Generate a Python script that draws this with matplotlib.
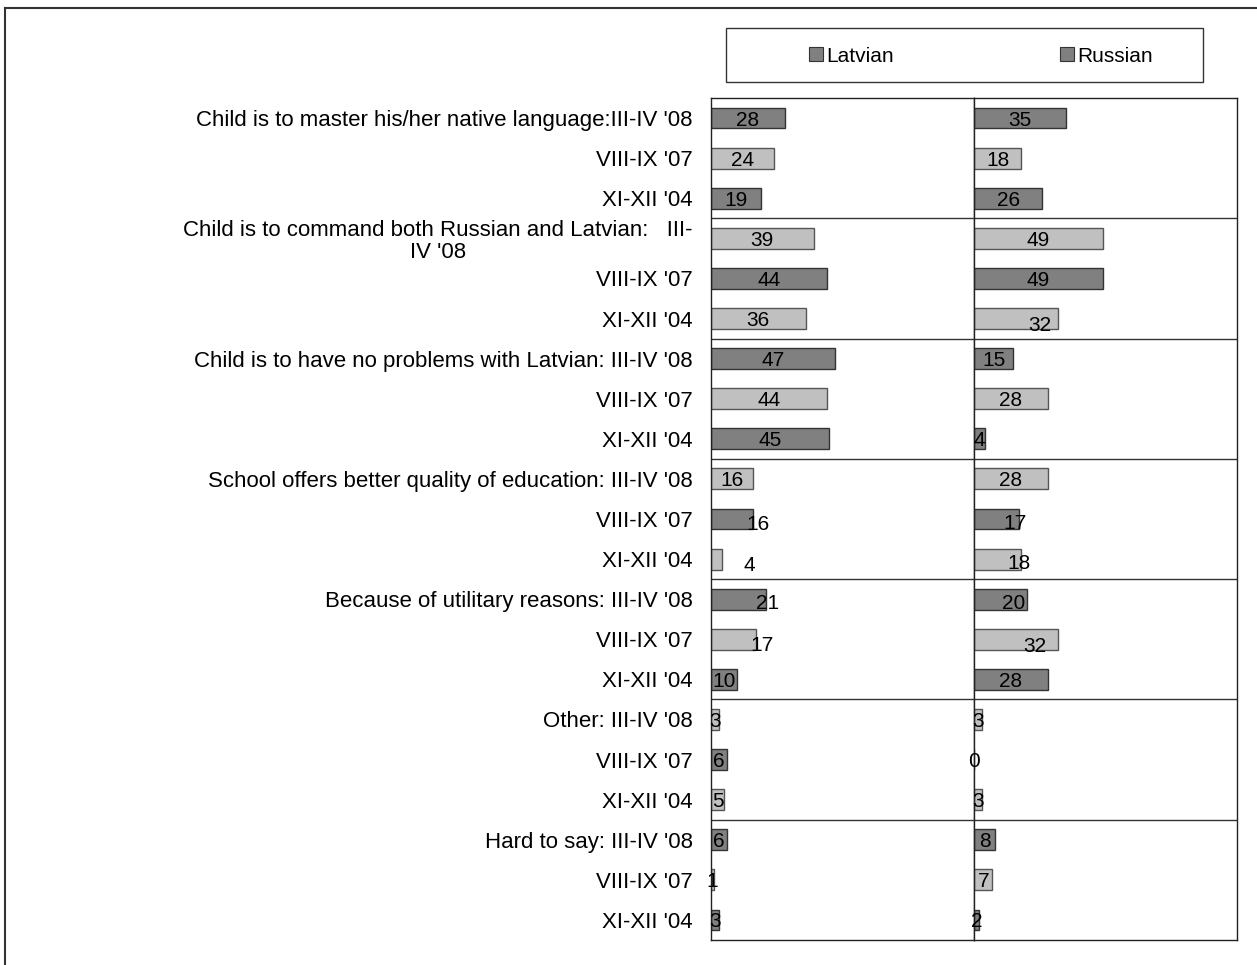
import matplotlib
matplotlib.use("Agg")
import matplotlib.pyplot as plt
from matplotlib.patches import Rectangle, Patch
from matplotlib.lines import Line2D

plt.rcParams['font.family'] = ['Liberation Sans', 'DejaVu Sans']

row_labels = [
    "Child is to master his/her native language:III-IV '08", "VIII-IX '07", "XI-XII '04",
    "Child is to command both Russian and Latvian:   III-\nIV '08", "VIII-IX '07", "XI-XII '04",
    "Child is to have no problems with Latvian: III-IV '08", "VIII-IX '07", "XI-XII '04",
    "School offers better quality of education: III-IV '08", "VIII-IX '07", "XI-XII '04",
    "Because of utilitary reasons: III-IV '08", "VIII-IX '07", "XI-XII '04",
    "Other: III-IV '08", "VIII-IX '07", "XI-XII '04",
    "Hard to say: III-IV '08", "VIII-IX '07", "XI-XII '04",
]
latvian = [28, 24, 19, 39, 44, 36, 47, 44, 45, 16, 16, 4, 21, 17, 10, 3, 6, 5, 6, 1, 3]
russian = [35, 18, 26, 49, 49, 32, 15, 28, 4, 28, 17, 18, 20, 32, 28, 3, 0, 3, 8, 7, 2]
series_names = ["Latvian", "Russian"]

# label nudges (Excel manual placements): (row -> (dx in value units, dy in rows))
lat_nudge = {10: (10, 0.08), 11: (12.5, 0.12), 12: (11, 0.05), 13: (11, 0.1)}
rus_nudge = {5: (9, 0.12), 10: (7, 0.05), 11: (8, 0.05), 12: (5, 0.05), 13: (7, 0.12)}

DARK = '#808080'
LIGHT = '#c0c0c0'

W, H = 1257, 965
fig = plt.figure(figsize=(W / 100, H / 100), dpi=100)

def fx(px):
    return px / W

def fy(py):
    return 1 - py / H

left, right, top, bottom = 711, 974, 98, 940
axL = fig.add_axes([fx(left), fy(bottom), fx(right - left), fy(top) - fy(bottom)])
axR = fig.add_axes([fx(right), fy(bottom), fx(1237 - right), fy(top) - fy(bottom)], sharey=axL)

n = len(row_labels)
ypos = list(range(n))
colors = [DARK if i % 2 == 0 else LIGHT for i in range(n)]
edges = ['#333333' if i % 2 == 0 else '#555555' for i in range(n)]

for ax, vals, nudge in ((axL, latvian, lat_nudge), (axR, russian, rus_nudge)):
    ax.barh(ypos, vals, height=0.52, color=colors, edgecolor=edges, linewidth=1.0)
    ax.set_xlim(0, 100)
    for i, v in enumerate(vals):
        dx, dy = nudge.get(i, (0, 0))
        ax.text(v / 2 + dx, i + dy, str(v), ha='center', va='center_baseline',
                fontsize=15, color='black')
    for g in range(1, 7):
        ax.axhline(g * 3 - 0.5, color='#333333', linewidth=1.0)
    ax.set_xticks([])
    for s in ax.spines.values():
        s.set_color('#222222')
        s.set_linewidth(1.0)

axL.set_ylim(n - 0.5, -0.5)
axL.set_yticks(ypos)
axL.set_yticklabels(row_labels, fontsize=16, multialignment='center', linespacing=1.05)
axL.tick_params(axis='y', length=0, pad=13)
axR.tick_params(axis='y', length=0, labelleft=False)

# legend frame and entries
fig.add_artist(Rectangle((fx(726), fy(82)), fx(1203 - 726), fy(28) - fy(82),
                         transform=fig.transFigure, facecolor='white',
                         edgecolor='#333333', linewidth=1.0))
handles = [Patch(facecolor=DARK, edgecolor='#333333', linewidth=0.8) for _ in series_names]
fig.legend(handles, series_names, loc='center', bbox_to_anchor=(fx(981), fy(56)),
           ncol=2, frameon=False, fontsize=15, handlelength=0.65, handleheight=0.65,
           handletextpad=0.15, columnspacing=8.0)

# outer chart frame (partially visible)
fig.add_artist(Line2D([fx(5), fx(1257)], [fy(8), fy(8)], transform=fig.transFigure,
                      color='#333333', linewidth=1.5))
fig.add_artist(Line2D([fx(5), fx(5)], [fy(8), fy(965)], transform=fig.transFigure,
                      color='#333333', linewidth=1.5))

fig.savefig('out.png', dpi=100)
